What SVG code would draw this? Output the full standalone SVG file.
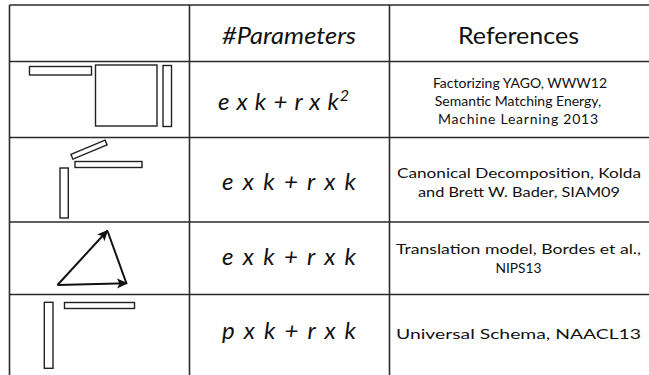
<svg xmlns="http://www.w3.org/2000/svg" width="649" height="375" viewBox="0 0 649 375">
<defs>
<marker id="ah" markerWidth="11" markerHeight="11" refX="10" refY="5.5" orient="auto" markerUnits="userSpaceOnUse">
<path d="M0,0.5 L11,5.5 L0,10.5 L2.5,5.5 Z" fill="#111"/>
</marker>
<style>
.grid{stroke:#2a2a2a;stroke-width:1.6;fill:none}
.bar{fill:#fff;stroke:#222;stroke-width:1.4}
.vec{stroke:#111;stroke-width:2;fill:none}
.hd{font-family:Lato,"Open Sans",sans-serif;font-size:23px;fill:#111;text-anchor:middle}
.pm{font-family:Lato,"Open Sans",sans-serif;font-size:24px;font-style:italic;fill:#111;text-anchor:middle}
.rf{font-family:Lato,"Open Sans",sans-serif;font-size:14px;fill:#111;text-anchor:middle}
</style>
</defs>
<rect width="649" height="375" fill="#fff"/>
<g id="grid">
<line class="grid" x1="9.5" y1="5" x2="649" y2="5"/>
<line class="grid" x1="9.5" y1="61.5" x2="649" y2="61.5"/>
<line class="grid" x1="9.5" y1="137.5" x2="649" y2="137.5"/>
<line class="grid" x1="9.5" y1="222" x2="649" y2="222"/>
<line class="grid" x1="9.5" y1="294.5" x2="649" y2="294.5"/>
<line class="grid" x1="9.5" y1="5" x2="9.5" y2="375"/>
<line class="grid" x1="189.5" y1="5" x2="189.5" y2="375"/>
<line class="grid" x1="389.5" y1="5" x2="389.5" y2="375"/>
</g>
<g id="header">
<text class="hd" x="289" y="44" font-style="italic" textLength="134" lengthAdjust="spacingAndGlyphs">#Parameters</text>
<text class="hd" x="518.5" y="44" textLength="121" lengthAdjust="spacingAndGlyphs">References</text>
</g>
<g id="row1">
<rect class="bar" x="29.5" y="66.5" width="62" height="8.5"/>
<rect class="bar" x="95.5" y="65" width="61.5" height="61"/>
<rect class="bar" x="163" y="65.5" width="8.5" height="61"/>
<text class="pm" x="283.5" y="110" textLength="131" lengthAdjust="spacing">e x k + r x k<tspan font-size="16" dy="-9">2</tspan></text>
<text class="rf" x="520" y="88" font-size="13.5">Factorizing YAGO, WWW12</text>
<text class="rf" x="518" y="106" font-size="13.5">Semantic Matching Energy,</text>
<text class="rf" x="518" y="124" textLength="160" lengthAdjust="spacing">Machine Learning 2013</text>
</g>
<g id="row2">
<rect class="bar" x="-18.5" y="-2.5" width="37" height="5" transform="translate(89 149.6) rotate(-22.7)"/>
<rect class="bar" x="75" y="161.5" width="67" height="6"/>
<rect class="bar" x="60" y="168" width="8.3" height="50"/>
<text class="pm" x="289" y="190" textLength="134" lengthAdjust="spacing">e x k + r x k</text>
<text class="rf" x="519" y="178" font-size="17" textLength="244" lengthAdjust="spacingAndGlyphs">Canonical Decomposition, Kolda</text>
<text class="rf" x="519" y="197" font-size="17" textLength="202" lengthAdjust="spacingAndGlyphs">and Brett W. Bader, SIAM09</text>
</g>
<g id="row3">
<line class="vec" x1="57.5" y1="285" x2="107.5" y2="230.5" marker-end="url(#ah)"/>
<line class="vec" x1="107.5" y1="231" x2="126.5" y2="283.5"/>
<line class="vec" x1="57.5" y1="285" x2="127" y2="283.3" marker-end="url(#ah)"/>
<text class="pm" x="289" y="265" textLength="134" lengthAdjust="spacing">e x k + r x k</text>
<text class="rf" x="518.5" y="254" font-size="17" textLength="245" lengthAdjust="spacingAndGlyphs">Translation model, Bordes et al.,</text>
<text class="rf" x="518.5" y="273" font-size="17" textLength="46" lengthAdjust="spacingAndGlyphs">NIPS13</text>
</g>
<g id="row4">
<rect class="bar" x="44.3" y="302.3" width="8.7" height="66"/>
<rect class="bar" x="64.5" y="302.5" width="70" height="6"/>
<text class="pm" x="289" y="339" textLength="134" lengthAdjust="spacing">p x k + r x k</text>
<text class="rf" x="518.5" y="339" font-size="20" textLength="245" lengthAdjust="spacingAndGlyphs">Universal Schema, NAACL13</text>
</g>
</svg>
